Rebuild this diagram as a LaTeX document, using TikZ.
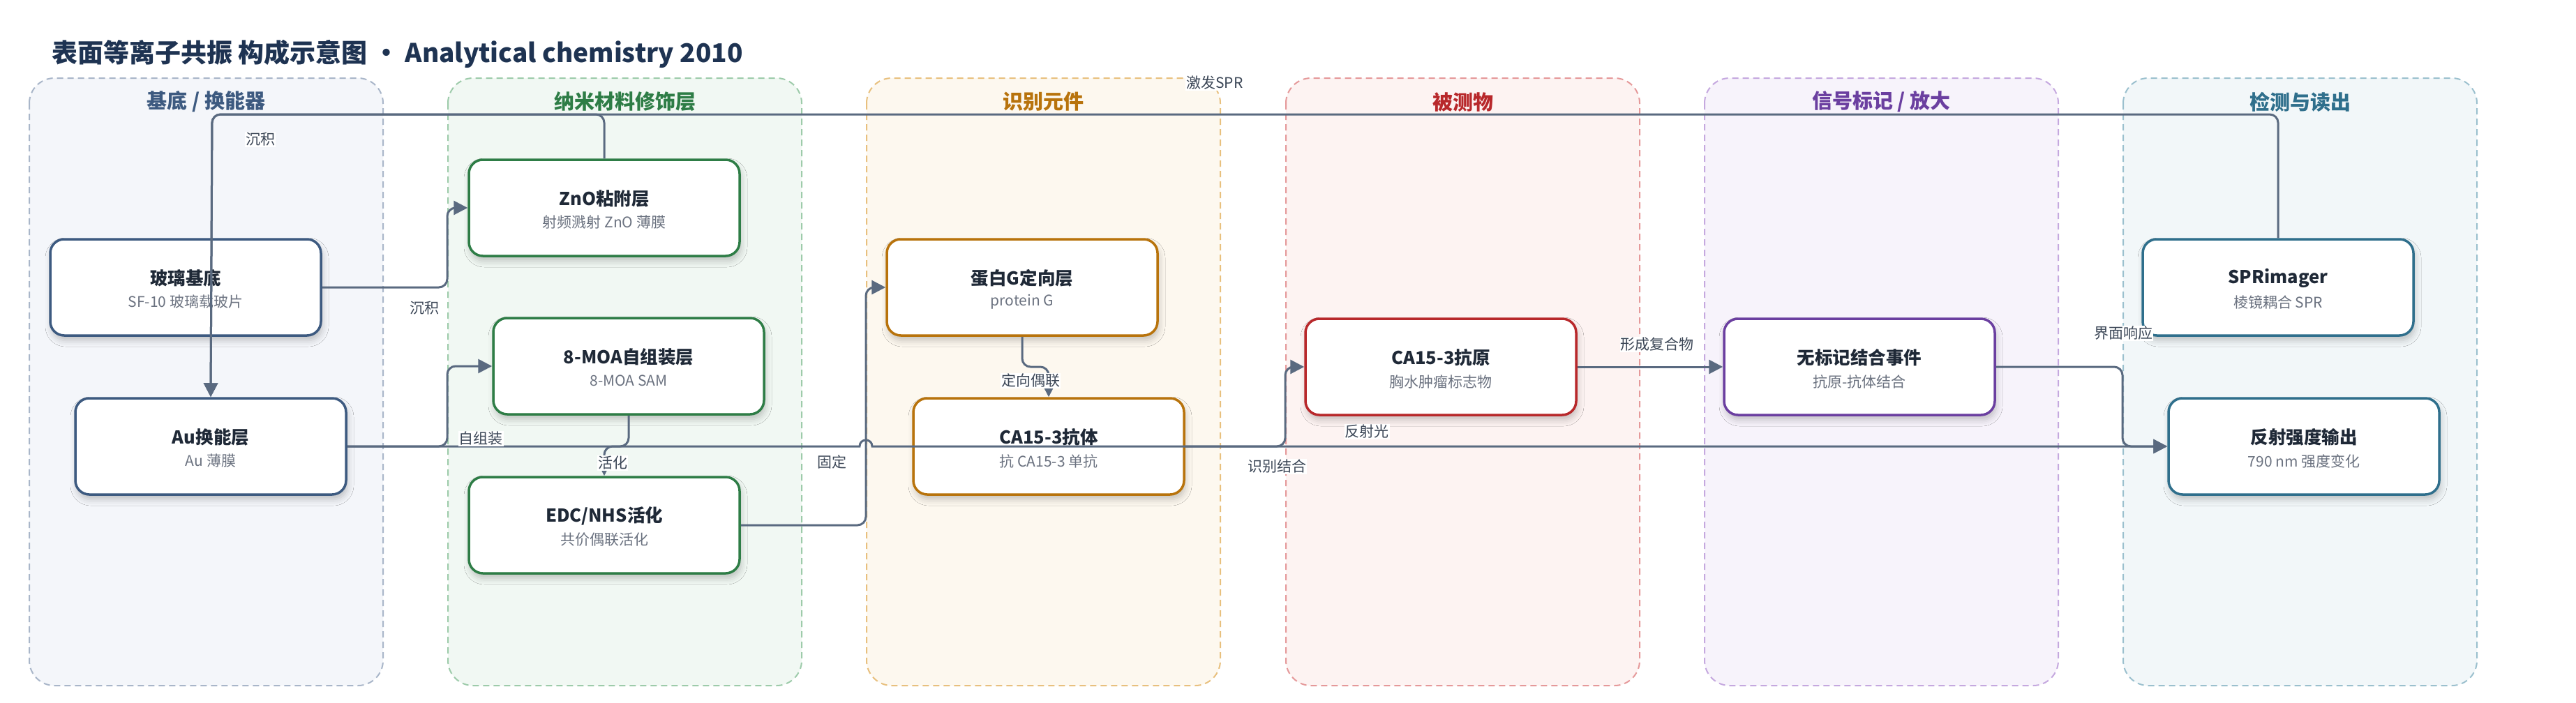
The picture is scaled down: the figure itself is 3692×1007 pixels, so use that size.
\documentclass[tikz,border=0pt]{standalone}
\usepackage{fontspec}
\setmainfont{Noto Sans CJK SC}
\usetikzlibrary{arrows.meta,shadows.blur}
\definecolor{titlec}{HTML}{1E3352}
\definecolor{fillA}{HTML}{F4F6FA}\definecolor{bordA}{HTML}{A9B6C9}\definecolor{headA}{HTML}{3D5A80}
\definecolor{fillB}{HTML}{F1F8F3}\definecolor{bordB}{HTML}{9DCBAA}\definecolor{headB}{HTML}{2E7D46}
\definecolor{fillC}{HTML}{FDF8EF}\definecolor{bordC}{HTML}{E8C07E}\definecolor{headC}{HTML}{B8730C}
\definecolor{fillD}{HTML}{FDF3F2}\definecolor{bordD}{HTML}{E5999A}\definecolor{headD}{HTML}{B8282B}
\definecolor{fillE}{HTML}{F7F3FB}\definecolor{bordE}{HTML}{C5A8DF}\definecolor{headE}{HTML}{6B3FA0}
\definecolor{fillF}{HTML}{F2F7F9}\definecolor{bordF}{HTML}{9BC0CE}\definecolor{headF}{HTML}{2F6F8C}
\definecolor{connc}{HTML}{5A6A80}
\definecolor{labc}{HTML}{3B4656}
\definecolor{ttlc}{HTML}{1F2937}
\definecolor{subc}{HTML}{6B7280}
\newcommand\mkbox[6]{%
  \node[databox, draw=#4] (#1) at (#2,#3) {};
  \node[boxttl] (#1-t) at ([yshift=13pt]#1.center) {#5};
  \node[boxsub] (#1-s) at ([yshift=-21pt]#1.center) {#6};
}
\begin{document}
\begin{tikzpicture}[x=1pt,y=-1pt,
  lane/.style={line width=2pt, dash pattern=on 9pt off 6pt, rounded corners=36pt},
  head/.style={font=\fontsize{29}{34}\selectfont\bfseries, inner sep=0pt},
  databox/.style={rectangle, line width=3.5pt, fill=white, rounded corners=20pt,
    minimum width=388pt, minimum height=138pt, inner sep=0pt,
    blur shadow={shadow xshift=2pt, shadow yshift=-7pt, shadow blur radius=9pt, shadow opacity=22}},
  boxttl/.style={font=\fontsize{25.5}{30}\selectfont\bfseries, text=ttlc, inner sep=0pt},
  boxsub/.style={font=\fontsize{21}{25}\selectfont, text=subc, inner sep=0pt},
  conn/.style={draw=connc, line width=3pt, rounded corners=12pt, -{Triangle[length=20pt,width=20pt]}},
  elab/.style={font=\fontsize{21}{25}\selectfont, text=labc, fill=white, inner sep=1pt}
]
\useasboundingbox (0,0) rectangle (3692,1007);
\fill[white] (0,0) rectangle (3692,1007);

\node[anchor=west, inner sep=0pt, text=titlec, font=\fontsize{37}{44}\selectfont\bfseries] (title) at (74,77)
  {表面等离子共振 构成示意图 · Analytical chemistry 2010};

% lanes
\draw[lane, fill=fillA, draw=bordA] (42,112) rectangle (549,983);
\draw[lane, fill=fillB, draw=bordB] (642,112) rectangle (1149,983);
\draw[lane, fill=fillC, draw=bordC] (1242,112) rectangle (1749,983);
\draw[lane, fill=fillD, draw=bordD] (1843,112) rectangle (2350,983);
\draw[lane, fill=fillE, draw=bordE] (2443,112) rectangle (2950,983);
\draw[lane, fill=fillF, draw=bordF] (3043,112) rectangle (3550,983);

\node[head, text=headA] (hA) at (295.5,146) {基底 / 换能器};
\node[head, text=headB] (hB) at (895.5,146) {纳米材料修饰层};
\node[head, text=headC] (hC) at (1495.5,146) {识别元件};
\node[head, text=headD] (hD) at (2096.5,146) {被测物};
\node[head, text=headE] (hE) at (2696.5,146) {信号标记 / 放大};
\node[head, text=headF] (hF) at (3296.5,146) {检测与读出};

% boxes
\mkbox{glass}{266}{412}{headA}{玻璃基底}{SF-10 玻璃载玻片}
\mkbox{Au}{302}{640}{headA}{Au换能层}{Au 薄膜}
\mkbox{ZnO}{866}{298}{headB}{ZnO粘附层}{射频溅射 ZnO 薄膜}
\mkbox{MOA}{901}{525}{headB}{8-MOA自组装层}{8-MOA SAM}
\mkbox{EDC}{866}{753}{headB}{EDC/NHS活化}{共价偶联活化}
\mkbox{ProtG}{1465}{412}{headC}{蛋白G定向层}{protein G}
\mkbox{Ab}{1503}{640}{headC}{CA15-3抗体}{抗 CA15-3 单抗}
\mkbox{Ag}{2065}{526}{headD}{CA15-3抗原}{胸水肿瘤标志物}
\mkbox{LF}{2665}{526}{headE}{无标记结合事件}{抗原-抗体结合}
\mkbox{SPR}{3265}{412}{headF}{SPRimager}{棱镜耦合 SPR}
\mkbox{Out}{3302}{640}{headF}{反射强度输出}{790 nm 强度变化}

% connectors
\draw[conn] (glass.east) -- (641,412) -- (641,298) -- (ZnO.west);
\draw[conn] (ZnO.north) -- (866,164) -- (304,164) -- (Au.north);
\draw[conn] (SPR.north) -- (3265,164) -- (304,164) -- (Au.north);
\draw[conn] (Au.east) -- (641,640) -- (641,525) -- (MOA.west);
\draw[conn, rounded corners=0pt] (Au.east) -- (1232,640) .. controls (1232,628) and (1250,628) .. (1250,640) -- (Out.west);
\draw[conn] (MOA.south) -- (901,640) -- (866,640) -- (EDC.north);
\draw[conn] (EDC.east) -- (1241,753) -- (1241,412) -- (ProtG.west);
\draw[conn] (ProtG.south) -- (1465,526) -- (1503,526) -- (Ab.north);
\draw[conn] (Ab.east) -- (1842,640) -- (1842,526) -- (Ag.west);
\draw[conn] (Ag.east) -- (LF.west);
\draw[conn] (LF.east) -- (3042,526) -- (3042,640) -- (Out.west);

% edge labels
\node[elab] (l1) at (608,442) {沉积};
\node[elab] (l2) at (373,200) {沉积};
\node[elab] (l3) at (1741,119) {激发SPR};
\node[elab] (l4) at (689,629) {自组装};
\node[elab] (l5) at (1959,619) {反射光};
\node[elab] (l6) at (878,664) {活化};
\node[elab] (l7) at (1192,662) {固定};
\node[elab] (l8) at (1477,546) {定向偶联};
\node[elab] (l9) at (1830,669) {识别结合};
\node[elab] (l10) at (2375,494) {形成复合物};
\node[elab] (l11) at (3043,478) {界面响应};
\end{tikzpicture}
\end{document}
